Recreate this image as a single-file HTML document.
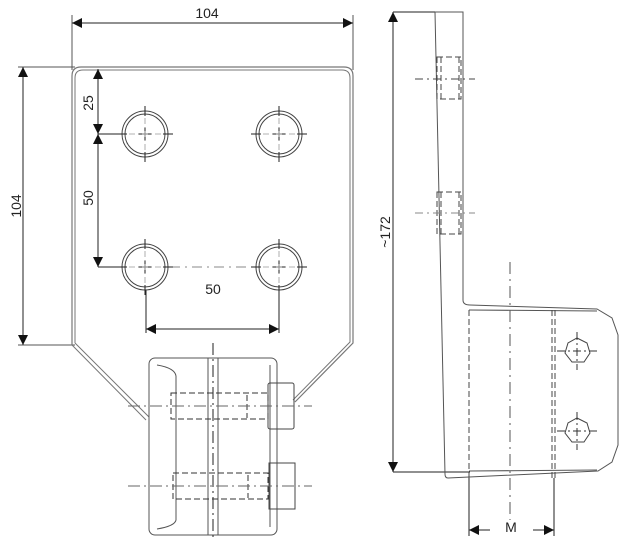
<!DOCTYPE html>
<html><head><meta charset="utf-8"><style>
html,body{margin:0;padding:0;background:#fff;width:630px;height:549px;overflow:hidden}
text{font-family:"Liberation Sans",sans-serif;font-size:14px;fill:#222}
</style></head><body>
<svg width="630" height="549" viewBox="0 0 630 549" xmlns="http://www.w3.org/2000/svg">
<defs>
<marker id="a" viewBox="0 0 10 10" refX="10" refY="5" markerWidth="10" markerHeight="10" markerUnits="userSpaceOnUse" orient="auto-start-reverse"><path d="M0,0 L10,5 L0,10 z" fill="#111"/></marker>
<g id="hole">
<circle r="23" fill="none" stroke="#444" stroke-width="1"/>
<circle r="20" fill="none" stroke="#444" stroke-width="1"/>
<path d="M-28,0 H-18 M18,0 H28 M0,-28 V-18 M0,18 V28 M-7,0 H7 M0,-7 V7" stroke="#222" stroke-width="1"/>
<path d="M-16,0 H16 M0,-16 V16" stroke="#999" stroke-width="0.8" stroke-dasharray="6,3,1,3"/>
</g>
</defs>
<g fill="none" stroke="#222" stroke-width="1">
<!-- top dim -->
<line x1="72" y1="15" x2="72" y2="70" stroke="#555"/>
<line x1="353" y1="15" x2="353" y2="70" stroke="#555"/>
<line x1="72" y1="23" x2="353" y2="23" marker-start="url(#a)" marker-end="url(#a)"/>
<!-- left dim -->
<line x1="18" y1="67" x2="75" y2="67" stroke="#555"/>
<line x1="18" y1="345" x2="75" y2="345" stroke="#555"/>
<line x1="23" y1="67" x2="23" y2="345" marker-start="url(#a)" marker-end="url(#a)"/>
<!-- plate -->
<path d="M72,345 V76 Q72,67 81,67 H344 Q353,67 353,76 V343 L295,402" stroke="#777" stroke-width="1.2"/>
<path d="M75,343 V78 Q75,70 83,70 H342 Q350,70 350,78 V342 L293,400" stroke="#777" stroke-width="1"/>
<path d="M72,345 L146,420 M75,343 L149,417" stroke="#777" stroke-width="1"/>
<!-- inner dims -->
<line x1="98" y1="134" x2="125" y2="134"/>
<line x1="98" y1="267" x2="125" y2="267"/>
<line x1="98" y1="69" x2="98" y2="134" marker-start="url(#a)" marker-end="url(#a)"/>
<line x1="98" y1="134" x2="98" y2="267" marker-start="url(#a)" marker-end="url(#a)"/>
<line x1="146" y1="290" x2="146" y2="333"/>
<line x1="279" y1="290" x2="279" y2="333"/>
<line x1="146" y1="329" x2="279" y2="329" marker-start="url(#a)" marker-end="url(#a)"/>
<line x1="170" y1="267" x2="255" y2="267" stroke="#888" stroke-dasharray="10,5,2,5"/>
<!-- clamp -->
<rect x="149" y="358" width="128" height="177" rx="6" stroke="#555"/>
<path d="M157,365 Q175,368 176,376 V520 Q175,526 157,529" stroke="#555"/>
<path d="M270,365 V527" stroke="#555"/>
<line x1="208" y1="358" x2="208" y2="535" stroke="#555"/>
<line x1="218" y1="358" x2="218" y2="535" stroke="#555"/>
<line x1="213" y1="343" x2="213" y2="540" stroke="#222" stroke-dasharray="12,4,2,4"/>
<rect x="268" y="383" width="26" height="46" rx="2" stroke="#444"/>
<rect x="269" y="463" width="26" height="46" stroke="#444"/>
<g stroke="#333" stroke-dasharray="6,3">
<rect x="171" y="393" width="97" height="26"/>
<line x1="247" y1="395" x2="247" y2="418"/>
<rect x="173" y="473" width="95" height="26"/>
<line x1="248" y1="475" x2="248" y2="498"/>
</g>
<line x1="128" y1="406" x2="312" y2="406" stroke="#666" stroke-dasharray="12,4,2,4"/>
<line x1="128" y1="486" x2="312" y2="486" stroke="#666" stroke-dasharray="12,4,2,4"/>
<!-- side view -->
<line x1="393" y1="12" x2="463" y2="12"/>
<line x1="393" y1="472" x2="470" y2="472"/>
<line x1="393" y1="12" x2="393" y2="472" marker-start="url(#a)" marker-end="url(#a)"/>
<path d="M435,12 H463 V300 Q463,305 470,305 L597,309 L612,318 L618,335 V445 L612,462 L598,471 L448,478 Q445,478 445,474 L435,12" stroke="#555"/>
<line x1="469" y1="310" x2="597" y2="311" stroke="#555"/>
<line x1="469" y1="471" x2="597" y2="470" stroke="#555"/>
<g stroke="#444" stroke-dasharray="6,3">
<rect x="437" y="57" width="24" height="42"/>
<line x1="441" y1="57" x2="441" y2="99"/><line x1="459" y1="57" x2="459" y2="99"/>
<rect x="437" y="192" width="24" height="42"/>
<line x1="441" y1="192" x2="441" y2="234"/><line x1="459" y1="192" x2="459" y2="234"/>
<line x1="469" y1="310" x2="469" y2="478"/>
<line x1="552" y1="310" x2="552" y2="478"/>
<line x1="555" y1="310" x2="555" y2="478"/>
</g>
<line x1="415" y1="79" x2="475" y2="79" stroke="#444" stroke-dasharray="8,4,2,4"/>
<line x1="415" y1="213" x2="475" y2="213" stroke="#888" stroke-dasharray="8,4,2,4"/>
<line x1="510" y1="262" x2="510" y2="520" stroke="#555" stroke-dasharray="12,5,2,5"/>
<polygon points="577,338 587,343 590,353 584,362 572,362 565,353 568,343" stroke="#444"/>
<polygon points="577,418 587,423 590,433 584,442 572,442 565,433 568,423" stroke="#444"/>
<path d="M557,351 H597 M577,332 V370 M557,431 H597 M577,412 V450" stroke="#333" stroke-dasharray="8,3,2,3"/>
<line x1="469" y1="478" x2="469" y2="536"/>
<line x1="554" y1="478" x2="554" y2="536"/>
<line x1="469" y1="530" x2="490" y2="530" marker-start="url(#a)"/>
<line x1="533" y1="530" x2="554" y2="530" marker-end="url(#a)"/>
</g>
<use href="#hole" x="145" y="134"/>
<use href="#hole" x="279" y="134"/>
<use href="#hole" x="145" y="267"/>
<use href="#hole" x="279" y="267"/>
<text x="207" y="18" text-anchor="middle">104</text>
<text transform="translate(21,206) rotate(-90)" text-anchor="middle">104</text>
<text transform="translate(93,103) rotate(-90)" text-anchor="middle">25</text>
<text transform="translate(93,198) rotate(-90)" text-anchor="middle">50</text>
<text x="213" y="294" text-anchor="middle">50</text>
<text transform="translate(390,232) rotate(-90)" text-anchor="middle">~172</text>
<text x="511" y="532" text-anchor="middle">M</text>
</svg>
</body></html>
